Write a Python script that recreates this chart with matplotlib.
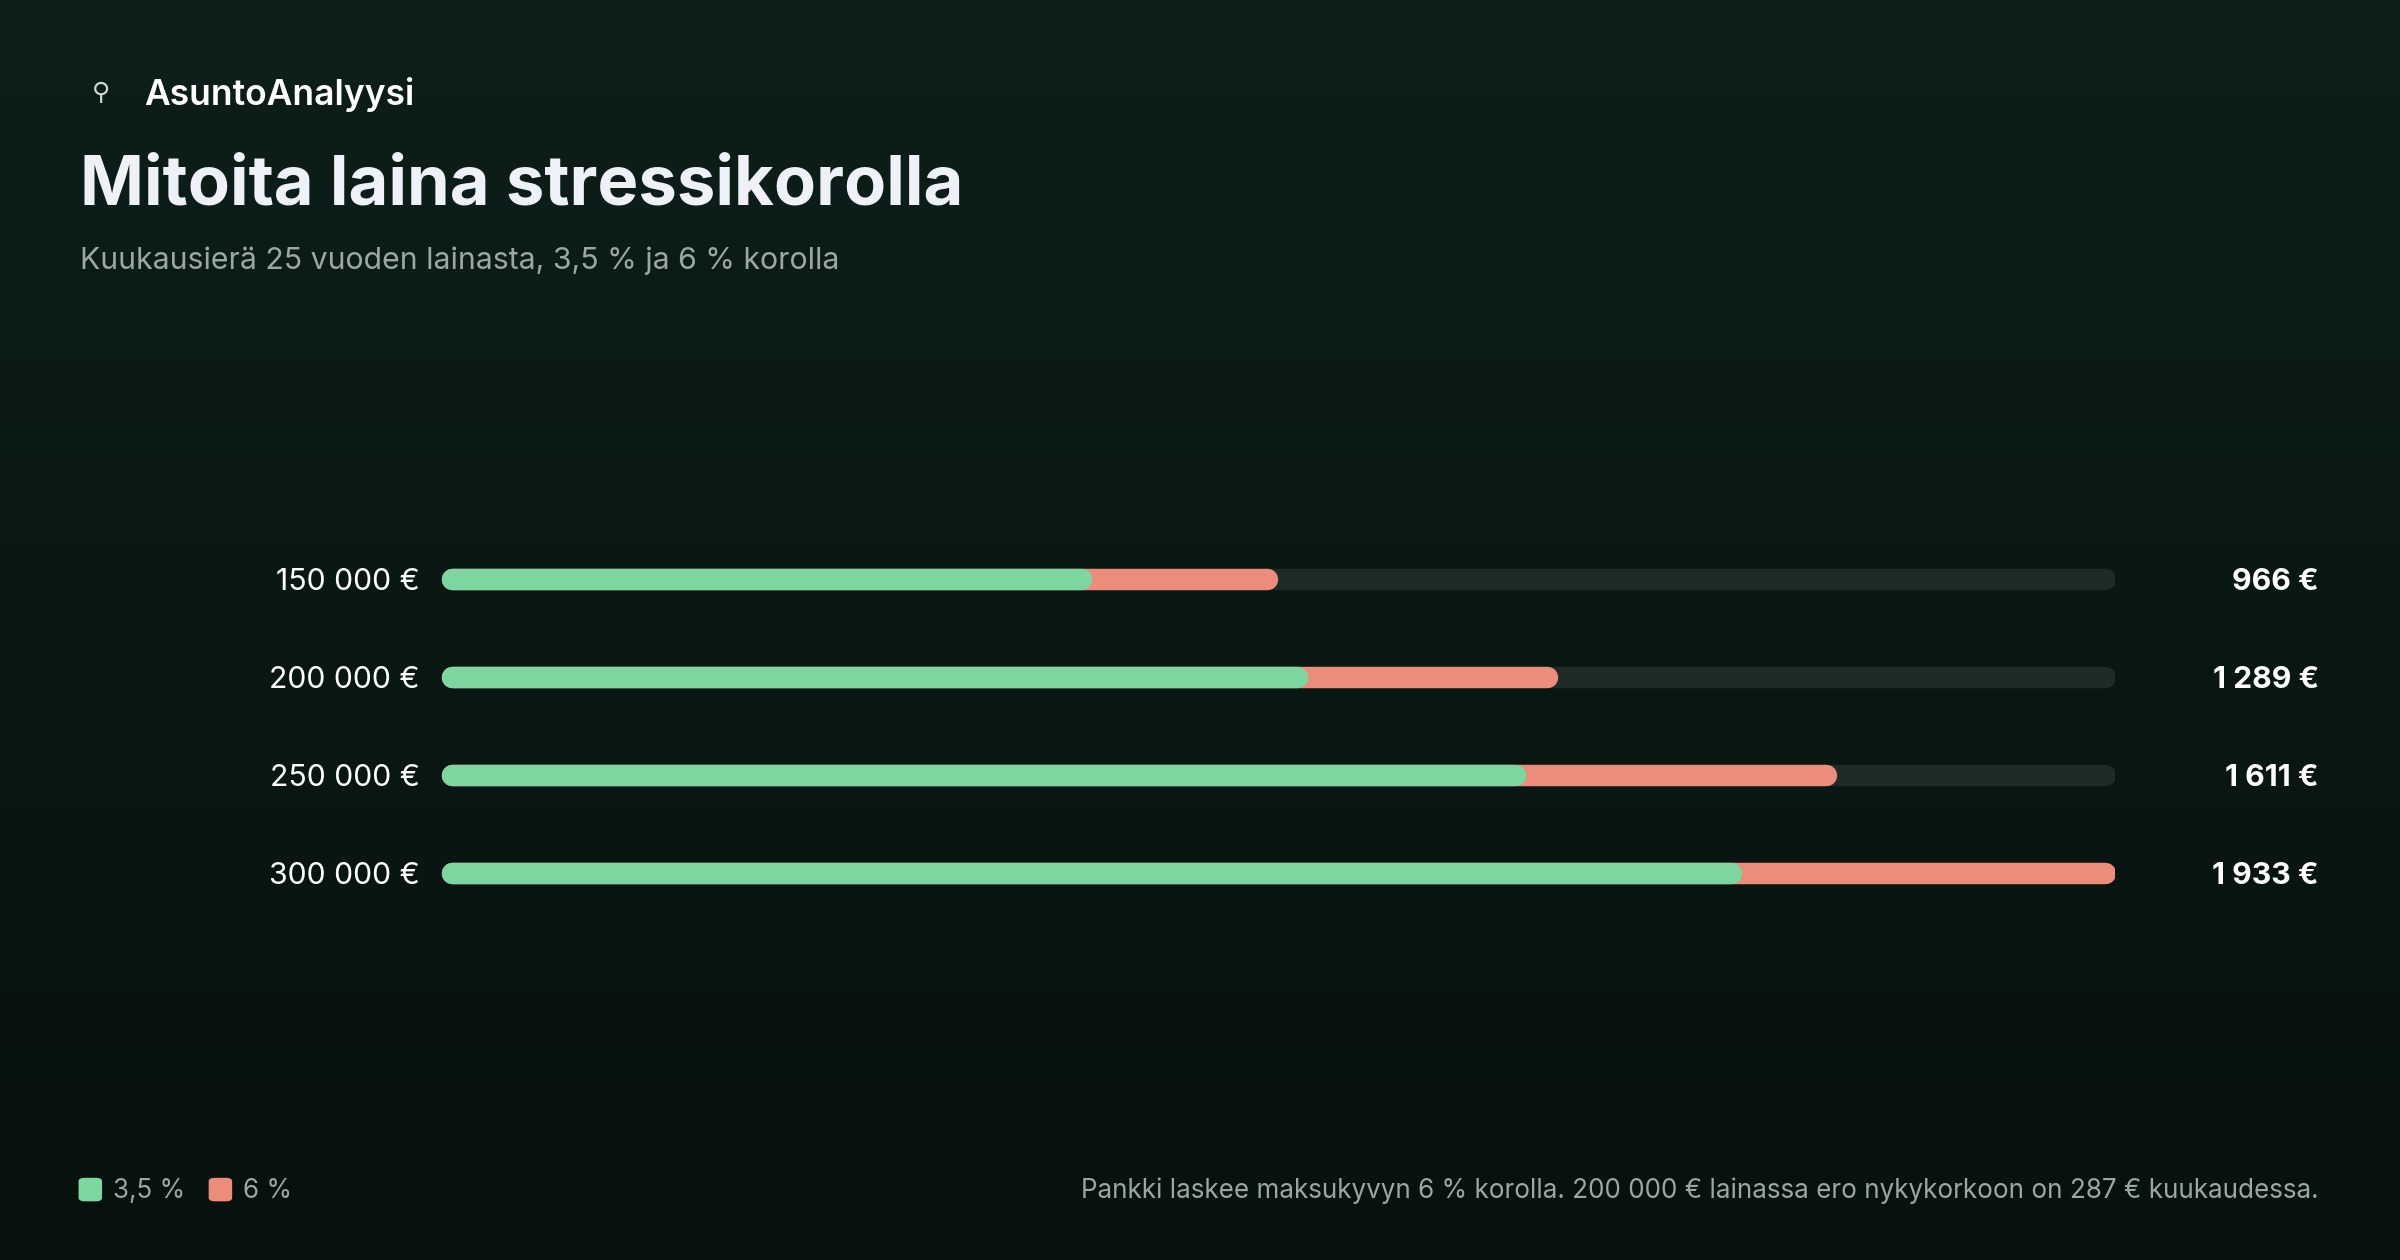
import matplotlib.pyplot as plt
import numpy as np
from matplotlib.colors import LinearSegmentedColormap
from matplotlib.patches import FancyBboxPatch

loans = ["150 000 €", "200 000 €", "250 000 €", "300 000 €"]
pay_low = [751, 1001, 1252, 1502]      # 3,5 %
pay_high = [966, 1289, 1611, 1933]     # 6 %
value_labels = ["966 €", "1 289 €", "1 611 €", "1 933 €"]

green = "#7dd6a0"
red = "#ec8c7a"
track = "#1e2b27"
W, H = 1568, 823  # reference layout units

plt.rcParams['font.family'] = ['Inter', 'DejaVu Sans']
fig = plt.figure(figsize=(16, 8.4), dpi=150)

# background gradient
bg = fig.add_axes([0, 0, 1, 1])
grad = np.linspace(0, 1, 256).reshape(-1, 1)
cm = LinearSegmentedColormap.from_list("bg", ["#0d1f1a", "#07110e"])
bg.imshow(grad, aspect="auto", cmap=cm, extent=[0, 1, 0, 1])
bg.axis("off")

def fx(x): return x / W
def fy(y): return 1 - y / H

fig.text(fx(60), fy(61), "⚲", color="#cfd8d4", fontsize=12, ha="left", va="center")
fig.text(fx(94), fy(62), "AsuntoAnalyysi", color="white", fontsize=17, fontweight="semibold", va="center")
fig.text(fx(52), fy(122), "Mitoita laina stressikorolla", color="#eef1f7", fontsize=33,
         fontweight="bold", va="center")
fig.text(fx(52), fy(170), "Kuukausierä 25 vuoden lainasta, 3,5 % ja 6 % korolla", color="#9aa7a2",
         fontsize=14.5, va="center")

# bars
ys = [378, 442, 506, 570]
x0, x1 = 288, 1382
vmax = max(pay_high)
ax = fig.add_axes([fx(x0), fy(600), fx(x1 - x0), (600 - 350) / H])
ax.set_xlim(0, vmax)
ax.set_ylim(600, 350)
ax.axis("off")
lw = 14 * 1.53 * 72 / 150
r = 7 / (x1 - x0) * vmax  # cap radius in data units
for i, y in enumerate(ys):
    ax.plot([r, vmax - r], [y, y], color=track, lw=lw, solid_capstyle="round")
    ax.plot([r, pay_high[i] - r], [y, y], color=red, lw=lw, solid_capstyle="round")
    ax.plot([r, pay_low[i] - r], [y, y], color=green, lw=lw, solid_capstyle="round")
    fig.text(fx(274), fy(y + 2), loans[i], color="white", fontsize=14.5, ha="right", va="center")
    fig.text(fx(1515), fy(y + 2), value_labels[i], color="white", fontsize=14.5, fontweight="bold",
             ha="right", va="center")

# legend
for xs, c, lab in [(59, green, "3,5 %"), (144, red, "6 %")]:
    fig.patches.append(FancyBboxPatch((fx(xs - 7), fy(784)), 14 / W, 14 / H,
                                      boxstyle="round,pad=0,rounding_size=0.002", color=c,
                                      transform=fig.transFigure, figure=fig))
    fig.text(fx(xs + 15), fy(778), lab, color="#9aa7a2", fontsize=12.5, va="center")
fig.text(fx(1515), fy(778),
         "Pankki laskee maksukyvyn 6 % korolla. 200 000 € lainassa ero nykykorkoon on 287 € kuukaudessa.",
         color="#9aa7a2", fontsize=12.5, ha="right", va="center")

fig.savefig("out.png", dpi=150)
